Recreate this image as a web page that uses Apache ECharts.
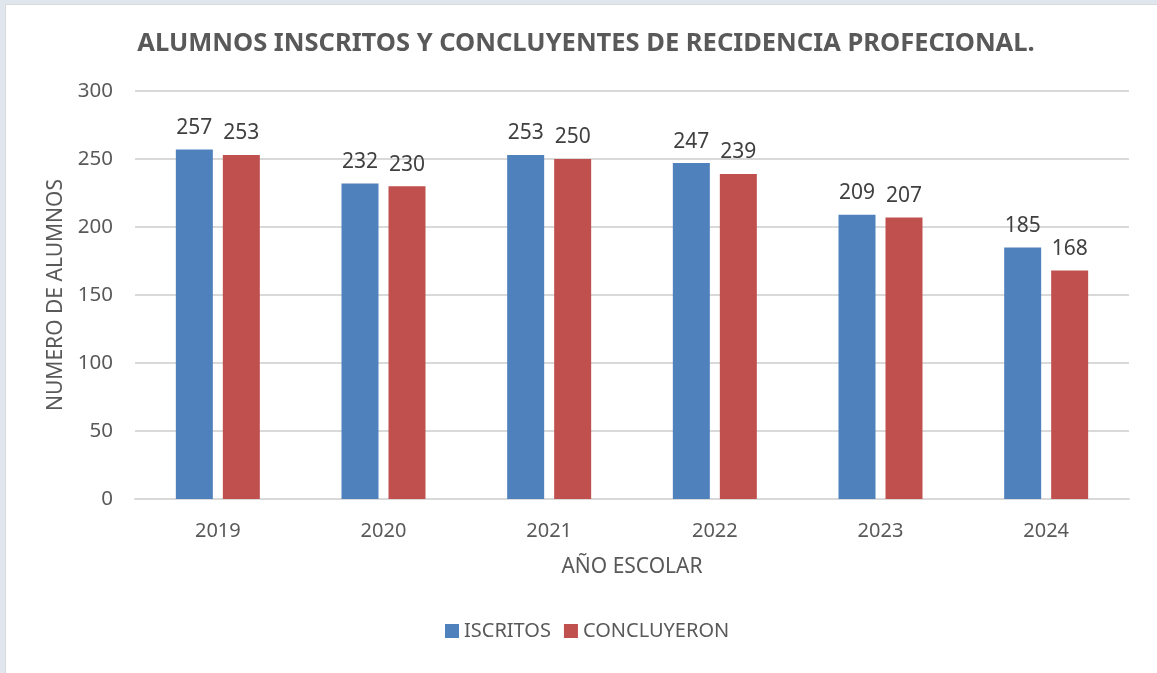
<!DOCTYPE html>
<html><head><meta charset="utf-8">
<script src="https://cdn.jsdelivr.net/npm/echarts@6/dist/echarts.min.js"></script>
<style>
html,body{margin:0;padding:0;width:1157px;height:673px;overflow:hidden;background:#dfe6ee;}
#box{position:absolute;left:5px;top:4px;width:1160px;height:680px;background:#fff;border:1px solid #d9d9d9;}
#main{position:absolute;left:0;top:0;width:1157px;height:673px;}
</style></head>
<body><div id="box"></div><div id="main"></div>
<script>
const categories = ['2019','2020','2021','2022','2023','2024'];
const inscritos = [257,232,253,247,209,185];
const concluyeron = [253,230,250,239,207,168];
const chart = echarts.init(document.getElementById('main'), null, {renderer:'canvas'});
const font = '"Noto Sans"';
chart.setOption({
  backgroundColor:'transparent',
  animation:false,
  title:{text:'ALUMNOS INSCRITOS Y CONCLUYENTES DE RECIDENCIA PROFECIONAL.',left:581,textAlign:'center',top:26,
    textStyle:{fontFamily:font,fontWeight:'bold',fontSize:25.5,color:'#595959'}},
  legend:{data:['ISCRITOS','CONCLUYERON'],left:440,top:616,itemWidth:14,itemHeight:14,itemGap:13,icon:'rect',
    textStyle:{fontFamily:font,fontSize:20,color:'#595959'}},
  grid:{left:135,right:28,top:91,bottom:174},
  xAxis:{type:'category',data:categories,
    axisLine:{lineStyle:{color:'#d9d9d9',width:2}},axisTick:{show:false},
    axisLabel:{fontFamily:font,fontSize:20,color:'#595959',margin:22},
    name:'AÑO ESCOLAR',nameLocation:'middle',nameGap:58,
    nameTextStyle:{fontFamily:font,fontSize:21,color:'#595959'}},
  yAxis:{type:'value',min:0,max:300,interval:50,
    axisLine:{show:false},axisTick:{show:false},
    splitLine:{lineStyle:{color:'#d9d9d9',width:2}},
    axisLabel:{fontFamily:font,fontSize:20.5,color:'#595959',margin:22},
    name:'NUMERO DE ALUMNOS',nameLocation:'middle',nameGap:66,
    nameTextStyle:{fontFamily:font,fontSize:21,color:'#595959'}},
  series:[
    {name:'ISCRITOS',type:'bar',data:inscritos,barWidth:37,barGap:'27%',
     itemStyle:{color:'#4f81bd'},
     label:{show:true,position:'top',distance:11,fontFamily:font,fontSize:21,color:'#404040'}},
    {name:'CONCLUYERON',type:'bar',data:concluyeron,barWidth:37,
     itemStyle:{color:'#c0504d'},
     label:{show:true,position:'top',distance:11,fontFamily:font,fontSize:21,color:'#404040'}}
  ]
});
</script></body></html>
